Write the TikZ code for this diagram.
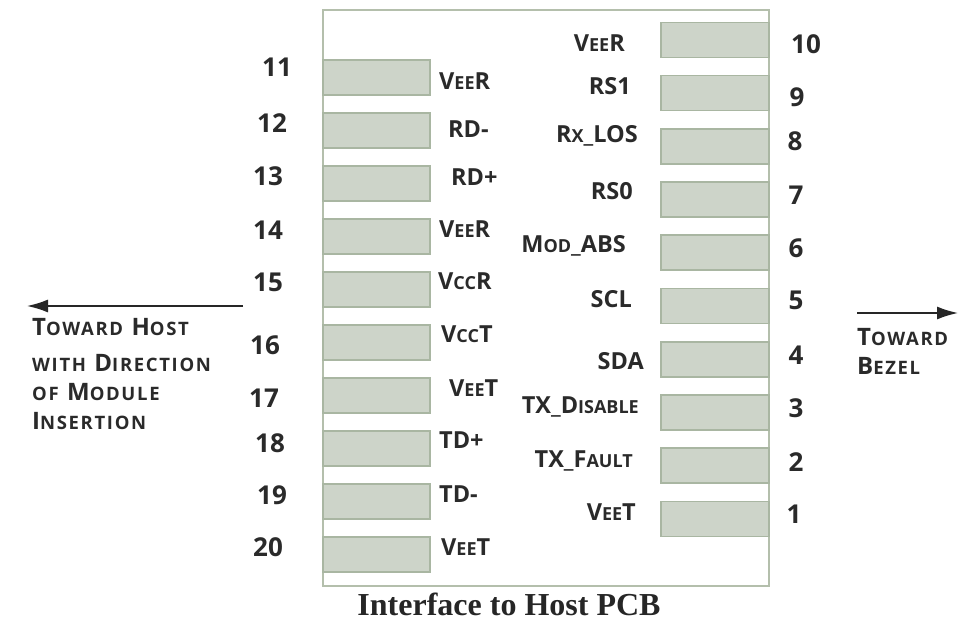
\documentclass[tikz,border=0pt]{standalone}
\usepackage{fontspec}
\setmainfont{Open Sans}
\newfontfamily\capfont{Liberation Serif}
\usetikzlibrary{arrows.meta}
\definecolor{txt}{HTML}{2A2A2A}
\definecolor{padfill}{HTML}{CDD4C9}
\definecolor{paddraw}{HTML}{A9B6A2}
\definecolor{outerdraw}{HTML}{B4BFAC}
\newcommand\sm[1]{{\fontsize{18}{18}\selectfont #1}}
\newcommand\smd[1]{{\fontsize{18.5}{18.5}\selectfont #1}}
\begin{document}
\begin{tikzpicture}[x=1pt,y=-1pt,
  pad/.style={draw=paddraw,fill=padfill,line width=1.6pt,minimum width=107pt,minimum height=35pt,inner sep=0pt},
  rpad/.style={pad,minimum width=108pt},
  lab/.style={text=txt,font=\fontsize{23.5}{23.5}\selectfont\bfseries,inner sep=0pt},
  llab/.style={lab,anchor=base west},
  rlab/.style={lab,anchor=base east},
  num/.style={text=txt,font=\fontsize{26}{26}\selectfont\bfseries,inner sep=0pt},
  dirtxt/.style={text=txt,font=\fontsize{24}{24}\selectfont\bfseries\addfontfeature{LetterSpace=9},inner sep=0pt,anchor=base west},
  dirarrow/.style={draw=black!85,line width=1.6pt,-{Latex[length=21pt,width=13pt]}},
  outer/.style={draw=outerdraw,line width=1.8pt}]
\useasboundingbox (0,0) rectangle (958,628);
\node[outer,minimum width=446pt,minimum height=576pt,inner sep=0pt] (body) at (546,298) {};
% left pads 11..20
\foreach \n in {11,...,20}{
  \node[pad] (p\n) at (376.5,{77.5+53*(\n-11)}) {};
}
% right pads 10..1
\foreach \n in {1,...,10}{
  \node[rpad] (p\n) at (715,{40+53.2*(10-\n)}) {};
}
% left pin numbers
\node[num] (n11) at (277,67) {11};
\node[num] (n12) at (272,123) {12};
\node[num] (n13) at (268,176) {13};
\node[num] (n14) at (268,230) {14};
\node[num] (n15) at (268,282) {15};
\node[num] (n16) at (265,345) {16};
\node[num] (n17) at (264,398) {17};
\node[num] (n18) at (270,443) {18};
\node[num] (n19) at (272,495) {19};
\node[num] (n20) at (268,547) {20};
% right pin numbers
\node[num] (n10) at (806,44) {10};
\node[num] (n9) at (797,97) {9};
\node[num] (n8) at (795,141) {8};
\node[num] (n7) at (796,195) {7};
\node[num] (n6) at (796,248) {6};
\node[num] (n5) at (796,300) {5};
\node[num] (n4) at (796,355) {4};
\node[num] (n3) at (796,408) {3};
\node[num] (n2) at (796,462) {2};
\node[num] (n1) at (794,514) {1};
% left labels
\node[llab] (l11) at (439,90) {V\sm{EE}R};
\node[llab] (l12) at (448,138) {RD-};
\node[llab] (l13) at (451,186) {RD+};
\node[llab] (l14) at (439,238) {V\sm{EE}R};
\node[llab] (l15) at (438,290) {V\sm{CC}R};
\node[llab] (l16) at (441,342) {V\sm{CC}T};
\node[llab] (l17) at (449,396) {V\sm{EE}T};
\node[llab] (l18) at (439,448) {TD+};
\node[llab] (l19) at (439,502) {TD-};
\node[llab] (l20) at (441,555) {V\sm{EE}T};
% right labels
\node[rlab] (l10) at (625,52) {V\sm{EE}R};
\node[rlab] (l9) at (631,95) {RS1};
\node[rlab] (l8) at (638,143) {R\sm{X}\_LOS};
\node[rlab] (l7) at (633,200) {RS0};
\node[rlab] (l6) at (626,253) {M\sm{OD}\_ABS};
\node[rlab] (l5) at (632,307) {SCL};
\node[rlab] (l4) at (644,369) {SDA};
\node[rlab] (l3) at (639,413) {TX\_D\sm{ISABLE}};
\node[rlab] (l2) at (633,467) {TX\_F\sm{AULT}};
\node[rlab] (l1) at (636,520) {V\sm{EE}T};
% direction arrows
\coordinate (la) at (243,306);
\coordinate (lb) at (27,306);
\draw[dirarrow] (la) -- (lb);
\coordinate (ra) at (857,313);
\coordinate (rb) at (958,313);
\draw[dirarrow] (ra) -- (rb);
% direction texts
\node[dirtxt] (h1) at (32,335) {T\smd{OWARD} H\smd{OST}};
\node[dirtxt] (h2) at (32,371) {\smd{WITH} D\smd{IRECTION}};
\node[dirtxt] (h3) at (32,400) {\smd{OF} M\smd{ODULE}};
\node[dirtxt] (h4) at (32,429) {I\smd{NSERTION}};
\node[dirtxt] (b1) at (857,345) {T\smd{OWARD}};
\node[dirtxt] (b2) at (857,374) {B\smd{EZEL}};
% caption
\node[text=black!85,font=\capfont\fontsize{32}{32}\selectfont\bfseries,inner sep=0pt,anchor=base] (cap) at (509,615) {Interface to Host PCB};
\end{tikzpicture}
\end{document}
